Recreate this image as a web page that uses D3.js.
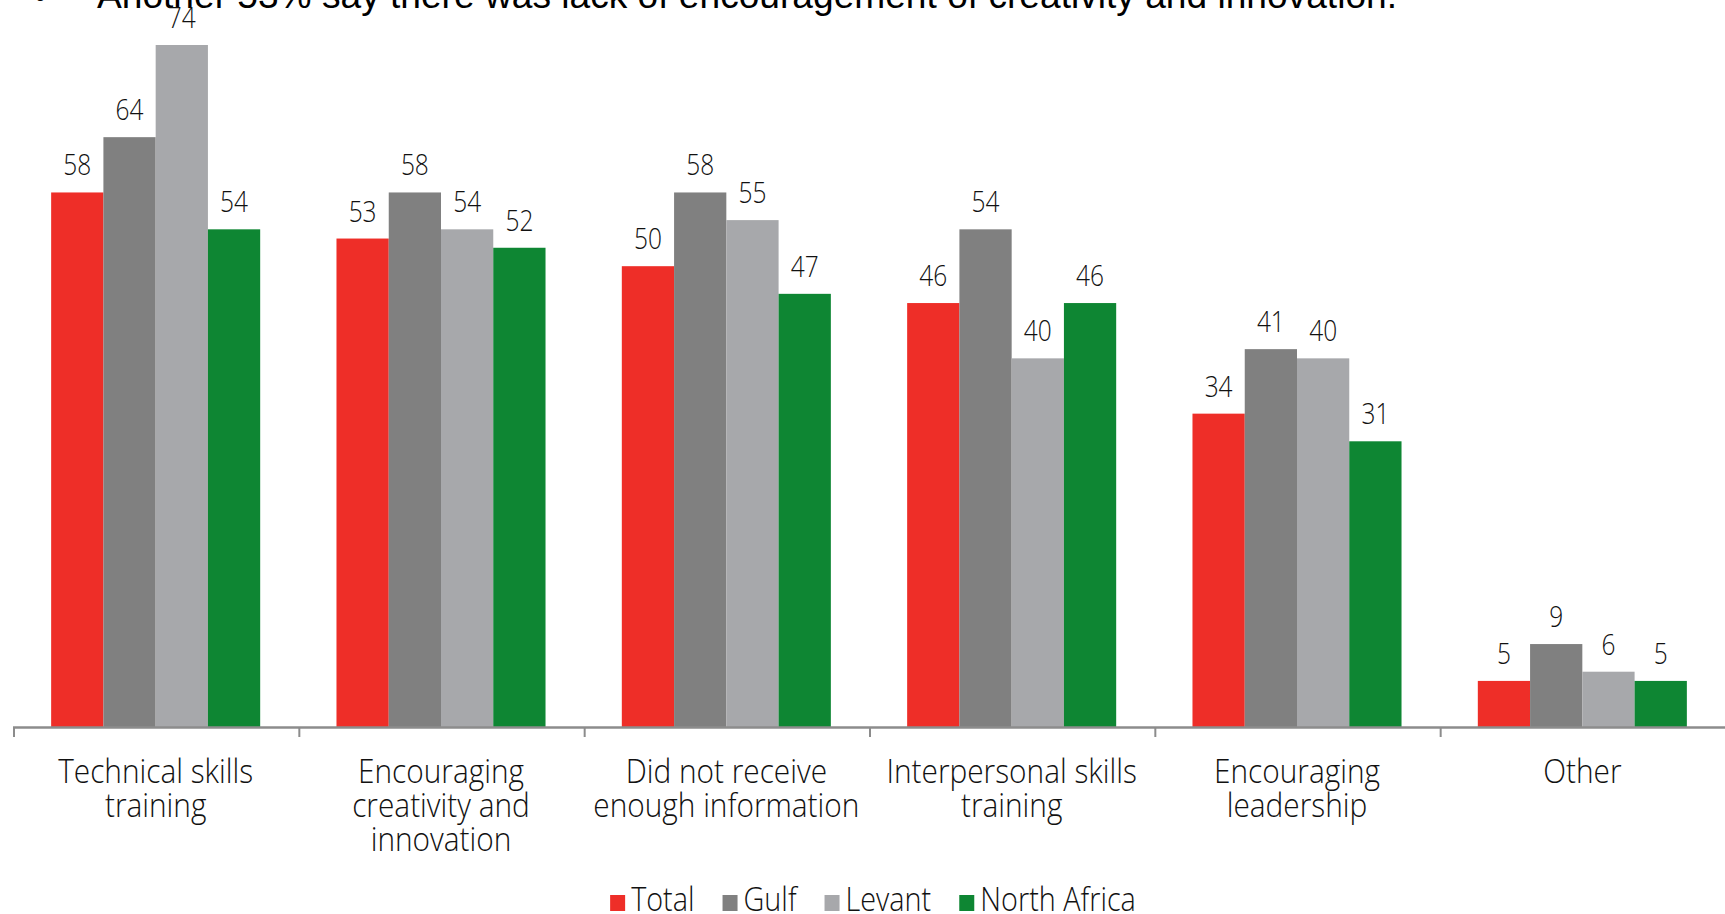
<!DOCTYPE html>
<html>
<head>
<meta charset="utf-8">
<script src="https://cdn.jsdelivr.net/npm/d3@7"></script>
<style>
  html, body { margin: 0; padding: 0; background: #fff; overflow: hidden; }
  svg { display: block; }
</style>
</head>
<body>
<div class="svg-container"></div>
<script>
// data
const categories = ["Technical skills training", "Encouraging creativity and innovation",
  "Did not receive enough information", "Interpersonal skills training",
  "Encouraging leadership", "Other"];
const categoryLines = [
  ["Technical skills", "training"],
  ["Encouraging", "creativity and", "innovation"],
  ["Did not receive", "enough information"],
  ["Interpersonal skills", "training"],
  ["Encouraging", "leadership"],
  ["Other"]
];
const series = ["Total", "Gulf", "Levant", "North Africa"];
const total = [58, 53, 50, 46, 34, 5];
const gulf = [64, 58, 58, 54, 41, 9];
const levant = [74, 54, 55, 40, 40, 6];
const northAfrica = [54, 52, 47, 46, 31, 5];
const colors = ["#ee2e28", "#808080", "#a7a8ab", "#0e8633"];
const title = "Another 53% say there was lack of encouragement of creativity and innovation.";

const values = [total, gulf, levant, northAfrica];

const w = 1725;
const h = 914;
const baseY = 727;
const squeeze = 0.83;     // value labels, source font is a narrow one
const catSqueeze = 0.89;  // category labels
const legSqueeze = 0.86;
const labelFont = "'Open Sans', 'Noto Sans', sans-serif";

const svg = d3.select(".svg-container")
  .append("svg")
  .attr("width", w)
  .attr("height", h);

const x0 = d3.scaleBand()
  .domain(categories)
  .range([13, 1725])
  .paddingInner(0)
  .paddingOuter(0);

const x1 = d3.scaleBand()
  .domain(series)
  .range([0, x0.bandwidth()])
  .paddingInner(0)
  .paddingOuter(0.73);

const y = d3.scaleLinear()
  .domain([0, 74])
  .range([baseY, 45]);

const color = d3.scaleOrdinal().domain(series).range(colors);

// title line, clipped at the top edge
svg.append("text")
  .attr("x", 34).attr("y", 7.5)
  .style("font-family", "'Liberation Sans', Arial, sans-serif")
  .style("font-size", "36px")
  .text("\u2022");
svg.append("text")
  .attr("x", 97).attr("y", 7.5)
  .attr("textLength", 1300)
  .attr("lengthAdjust", "spacingAndGlyphs")
  .style("font-family", "'Liberation Sans', Arial, sans-serif")
  .style("font-size", "36px")
  .text(title);

// bars
const rows = categories.map((c, i) => ({
  cat: c,
  lines: categoryLines[i],
  vals: series.map((s, j) => ({ s: s, v: values[j][i] }))
}));

const groups = svg.selectAll("g.group").data(rows).enter()
  .append("g")
  .attr("class", "group")
  .attr("transform", d => `translate(${x0(d.cat)},0)`);

groups.selectAll("rect").data(d => d.vals).enter()
  .append("rect")
  .attr("x", d => x1(d.s))
  .attr("y", d => y(d.v))
  .attr("width", x1.bandwidth())
  .attr("height", d => y(0) - y(d.v))
  .style("fill", d => color(d.s));

groups.selectAll("text.value").data(d => d.vals).enter()
  .append("text")
  .attr("class", "value")
  .attr("transform", d => `translate(${x1(d.s) + x1.bandwidth() / 2},${y(d.v) - 17}) scale(${squeeze},1)`)
  .attr("text-anchor", "middle")
  .style("font-family", labelFont)
  .style("font-weight", 300)
  .style("font-size", "29.5px")
  .style("fill", "#111")
  .text(d => d.v);

// axis line and ticks at the band edges
svg.append("path")
  .attr("d", d3.line()([[x0.range()[0], baseY + 0.5], [x0.range()[1], baseY + 0.5]]))
  .style("stroke", "#8c8c8c").style("stroke-width", 2.5).style("fill", "none");

svg.selectAll("line.tick").data(categories).enter()
  .append("line")
  .attr("class", "tick")
  .attr("x1", d => x0(d) + 1).attr("x2", d => x0(d) + 1)
  .attr("y1", baseY).attr("y2", baseY + 10)
  .style("stroke", "#8c8c8c").style("stroke-width", 2);

// category labels
const catText = svg.selectAll("text.cat").data(rows).enter()
  .append("text")
  .attr("class", "cat")
  .attr("transform", d => `translate(${x0(d.cat) + x0.bandwidth() / 2},783) scale(${catSqueeze},1)`)
  .attr("text-anchor", "middle")
  .style("font-family", labelFont)
  .style("font-weight", 300)
  .style("font-size", "33.5px")
  .style("fill", "#111");

catText.selectAll("tspan").data(d => d.lines).enter()
  .append("tspan")
  .attr("x", 0)
  .attr("y", (d, i) => i * 34)
  .text(d => d);

// legend
const legend = svg.append("g");
let lx = 0;
series.forEach((s, i) => {
  const item = legend.append("g").attr("transform", `translate(${lx},0)`);
  item.append("rect")
    .attr("x", 0).attr("y", -16)
    .attr("width", 15).attr("height", 16)
    .style("fill", color(s));
  const t = item.append("text")
    .attr("transform", `translate(21,0) scale(${legSqueeze},1)`)
    .style("font-family", labelFont)
    .style("font-weight", 300)
    .style("font-size", "33.5px")
    .style("fill", "#111")
    .text(s);
  lx += 21 + t.node().getComputedTextLength() * legSqueeze + 28;
});
const legendWidth = lx - 28;
legend.attr("transform", `translate(${873 - legendWidth / 2},911)`);
</script>
</body>
</html>
